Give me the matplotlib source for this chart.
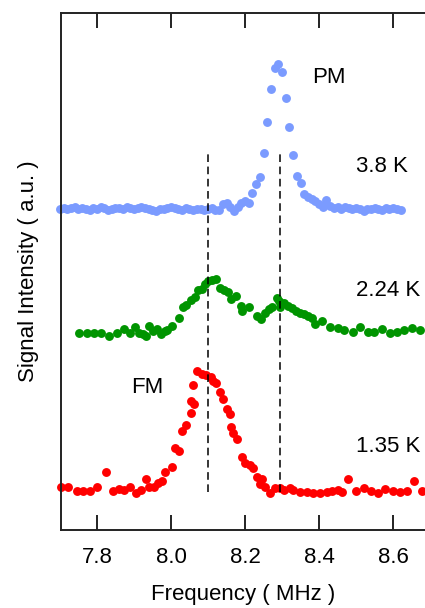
import numpy as np
import matplotlib
matplotlib.use("Agg")
import matplotlib.pyplot as plt

plt.rcParams['font.family'] = ['Liberation Sans', 'DejaVu Sans']

# ---- data (frequency in MHz, intensity in a.u. above each baseline) ----
pm_freq = [7.70, 7.71, 7.72, 7.73, 7.74, 7.75, 7.76, 7.77, 7.78, 7.79,
           7.80, 7.81, 7.82, 7.83, 7.84, 7.85, 7.86, 7.87, 7.88, 7.89,
           7.90, 7.91, 7.92, 7.93, 7.94, 7.95, 7.96, 7.97, 7.98, 7.99,
           8.00, 8.01, 8.02, 8.03, 8.04, 8.05, 8.06, 8.07, 8.08, 8.09,
           8.10, 8.11, 8.12, 8.13, 8.14, 8.15, 8.16, 8.17, 8.18, 8.19,
           8.20, 8.21, 8.22, 8.23, 8.24, 8.25, 8.26, 8.27, 8.28, 8.29,
           8.30, 8.31, 8.32, 8.33, 8.34, 8.35, 8.36, 8.37, 8.38, 8.39,
           8.40, 8.41, 8.42, 8.43, 8.44, 8.45, 8.46, 8.47, 8.48, 8.49,
           8.50, 8.51, 8.52, 8.53, 8.54, 8.55, 8.56, 8.57, 8.58, 8.59,
           8.60, 8.61, 8.62]
pm_int = [0.00, 0.01, 0.00, 0.01, 0.02, 0.00, 0.01, 0.00, -0.01, 0.01,
          0.00, 0.02, 0.01, -0.01, 0.00, 0.01, 0.01, 0.00, 0.02, 0.01,
          0.00, 0.01, 0.02, 0.01, 0.00, -0.01, -0.02, 0.00, 0.00, 0.01,
          0.02, 0.01, 0.00, -0.01, 0.01, 0.00, -0.01, 0.00, 0.00, -0.01,
          0.00, 0.01, -0.01, -0.01, 0.05, 0.06, 0.02, -0.02, 0.02, 0.06,
          0.08, 0.06, 0.16, 0.25, 0.32, 0.56, 0.87, 1.20, 1.41, 1.45,
          1.37, 1.11, 0.82, 0.54, 0.33, 0.26, 0.15, 0.12, 0.10, 0.08,
          0.05, 0.02, 0.09, 0.03, 0.01, 0.02, 0.00, 0.02, 0.01, 0.00,
          0.01, 0.00, -0.02, 0.00, 0.00, 0.01, 0.00, -0.01, 0.01, 0.00,
          0.01, 0.00, -0.01]

mid_freq = [7.751, 7.773, 7.792, 7.811, 7.832, 7.854, 7.873, 7.889, 7.903, 7.914,
            7.924, 7.932, 7.941, 7.951, 7.962, 7.973, 7.984, 7.989, 8.003, 8.022,
            8.032, 8.041, 8.054, 8.065, 8.073, 8.084, 8.092, 8.100, 8.111, 8.122,
            8.132, 8.143, 8.154, 8.162, 8.176, 8.189, 8.192, 8.211, 8.232, 8.243,
            8.254, 8.265, 8.273, 8.286, 8.292, 8.295, 8.305, 8.316, 8.327, 8.338,
            8.349, 8.359, 8.370, 8.381, 8.389, 8.408, 8.430, 8.451, 8.468, 8.492,
            8.511, 8.532, 8.549, 8.570, 8.592, 8.611, 8.630, 8.651, 8.673]
mid_int = [0.00, 0.00, 0.00, 0.00, -0.03, 0.00, 0.04, 0.00, 0.06, 0.00,
           -0.01, -0.03, 0.07, 0.02, 0.04, -0.01, 0.02, 0.03, 0.07, 0.15,
           0.26, 0.28, 0.33, 0.36, 0.43, 0.44, 0.49, 0.52, 0.53, 0.54,
           0.45, 0.43, 0.41, 0.34, 0.37, 0.27, 0.22, 0.26, 0.17, 0.14,
           0.20, 0.24, 0.26, 0.35, 0.32, 0.26, 0.30, 0.27, 0.25, 0.22,
           0.20, 0.19, 0.17, 0.15, 0.09, 0.12, 0.06, 0.05, 0.03, 0.01,
           0.06, 0.01, 0.01, 0.04, 0.00, 0.01, 0.03, 0.05, 0.03]

fm_freq = [7.703, 7.722, 7.746, 7.762, 7.781, 7.800, 7.824, 7.843, 7.859, 7.873,
           7.889, 7.905, 7.919, 7.932, 7.941, 7.954, 7.965, 7.976, 7.984, 8.003,
           8.011, 8.022, 8.030, 8.041, 8.054, 8.054, 8.062, 8.059, 8.070, 8.084,
           8.095, 8.108, 8.114, 8.122, 8.132, 8.141, 8.151, 8.159, 8.162, 8.168,
           8.178, 8.192, 8.200, 8.214, 8.222, 8.232, 8.241, 8.246, 8.254, 8.268,
           8.281, 8.295, 8.305, 8.322, 8.330, 8.349, 8.368, 8.384, 8.403, 8.422,
           8.435, 8.451, 8.462, 8.478, 8.500, 8.522, 8.541, 8.559, 8.578, 8.600,
           8.619, 8.638, 8.657, 8.678]
fm_int = [0.03, 0.03, -0.01, -0.01, -0.01, 0.03, 0.18, -0.01, 0.01, 0.00,
          0.03, -0.03, 0.00, 0.11, 0.03, 0.03, 0.07, 0.09, 0.18, 0.23,
          0.42, 0.39, 0.59, 0.65, 0.77, 0.89, 0.86, 1.05, 1.19, 1.16,
          1.15, 1.13, 1.09, 1.07, 0.98, 0.91, 0.81, 0.76, 0.63, 0.57,
          0.51, 0.33, 0.27, 0.25, 0.22, 0.13, 0.06, 0.11, 0.03, -0.03,
          0.02, 0.02, 0.00, 0.02, 0.00, -0.02, -0.02, -0.03, -0.03, -0.02,
          -0.01, 0.00, -0.02, 0.11, -0.01, 0.02, -0.01, -0.03, 0.01, -0.01,
          -0.02, -0.01, 0.09, -0.01]

offsets = [3.21, 1.97, 0.40]
temps = ['3.8 K', '2.24 K', '1.35 K']
colors = ['#7b9bff', '#009400', '#ff0000']
dash_freqs = [8.10, 8.295]

# ---- figure ----
fig = plt.figure(figsize=(4.25, 6.08), dpi=100)
ax = fig.add_axes([0.1435, 0.1283, 0.8565, 0.8503])

series = [(pm_freq, pm_int), (mid_freq, mid_int), (fm_freq, fm_int)]
for (f, s), off, c in zip(series, offsets, colors):
    ax.plot(f, np.array(s) + off, 'o', color=c, ms=6.4, mew=0, clip_on=False)

ax.vlines(dash_freqs, 0.38, 3.78, colors='black', linestyles=(0, (5, 3)), linewidth=1.1)

# temperature labels and phase labels (kept just inside the right edge)
for off, t in zip(offsets, temps):
    ax.text(8.50, off + 0.43, t, fontsize=16, va='center', ha='left')
ax.text(8.381, 4.53, 'PM', fontsize=16, va='center', ha='left')
ax.text(7.892, 1.42, 'FM', fontsize=16, va='center', ha='left')

ax.set_xlim(7.703, 8.686)
ax.set_ylim(0, 5.17)
ax.set_xticks([7.8, 8.0, 8.2, 8.4, 8.6])
ax.set_xticklabels(['7.8', '8.0', '8.2', '8.4', '8.6'])
ax.set_yticks([])
ax.tick_params(axis='x', direction='in', length=11, width=1.4, top=True,
               labelsize=16, pad=12, color='#222222')
for side in ['left', 'top', 'bottom']:
    ax.spines[side].set_linewidth(1.4)
    ax.spines[side].set_color('#222222')
ax.spines['right'].set_visible(False)

ax.set_xlabel('Frequency ( MHz )', fontsize=16, labelpad=12)
ax.set_ylabel('Signal Intensity ( a.u. )', fontsize=16, labelpad=16)

fig.savefig('out.png', dpi=100)
